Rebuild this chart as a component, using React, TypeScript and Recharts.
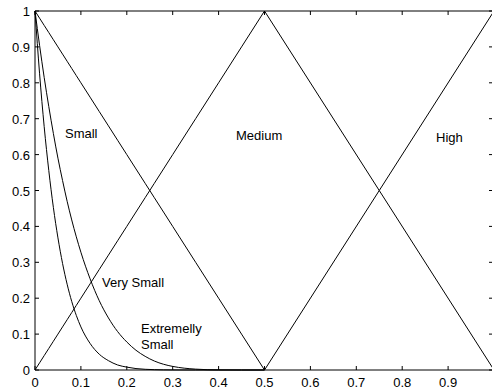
import React from "react";
import { LineChart, Line, XAxis, YAxis, ReferenceArea } from "recharts";

const xValues = [0, 0.01, 0.02, 0.03, 0.04, 0.05, 0.06, 0.07, 0.08, 0.09, 0.1, 0.12, 0.14, 0.16, 0.18, 0.2, 0.22, 0.24, 0.26, 0.28, 0.3, 0.35, 0.4, 0.45, 0.5, 0.75, 1];
const small = [1, 0.98, 0.96, 0.94, 0.92, 0.9, 0.88, 0.86, 0.84, 0.82, 0.8, 0.76, 0.72, 0.68, 0.64, 0.6, 0.56, 0.52, 0.48, 0.44, 0.4, 0.3, 0.2, 0.1, 0, null, null];
const medium = [0, 0.02, 0.04, 0.06, 0.08, 0.1, 0.12, 0.14, 0.16, 0.18, 0.2, 0.24, 0.28, 0.32, 0.36, 0.4, 0.44, 0.48, 0.52, 0.56, 0.6, 0.7, 0.8, 0.9, 1, 0.5, 0];
const high = [null, null, null, null, null, null, null, null, null, null, null, null, null, null, null, null, null, null, null, null, null, null, null, null, 0, 0.5, 1];
const verySmall = [1, 0.904, 0.815, 0.734, 0.659, 0.59, 0.528, 0.47, 0.418, 0.371, 0.328, 0.254, 0.193, 0.145, 0.107, 0.078, 0.055, 0.038, 0.025, 0.016, 0.01, 0.0024, 0.0003, 0, 0, null, null];
const extremelySmall = [1, 0.825, 0.678, 0.556, 0.453, 0.368, 0.297, 0.239, 0.191, 0.152, 0.12, 0.074, 0.044, 0.026, 0.014, 0.008, 0.004, 0.002, 0.001, 0.0004, 0.0002, 0, 0, 0, 0, null, null];

const xTicks = [0, 0.1, 0.2, 0.3, 0.4, 0.5, 0.6, 0.7, 0.8, 0.9];
const yTicks = [0, 0.1, 0.2, 0.3, 0.4, 0.5, 0.6, 0.7, 0.8, 0.9, 1];

const labels = [
  { text: "Small", x: 65, y: 138 },
  { text: "Medium", x: 236, y: 140 },
  { text: "High", x: 436, y: 142 },
  { text: "Very Small", x: 102, y: 287 },
  { text: "Extremelly", x: 141, y: 333 },
  { text: "Small", x: 141, y: 349 },
];

const data = xValues.map((x, i) => ({
  x,
  small: small[i],
  medium: medium[i],
  high: high[i],
  verySmall: verySmall[i],
  extremelySmall: extremelySmall[i],
}));

const CHART_W = 494;
const CHART_H = 392;
const M_LEFT = 35;
const M_TOP = 11;
const X_AXIS_H = 22;
const PLOT_RIGHT = CHART_W;
const FONT = "'Liberation Sans', Arial, sans-serif";

const XTick = (props: any) => {
  const { x, y, payload } = props;
  return (
    <g>
      <line x1={x} y1={y} x2={x} y2={y - 4} stroke="#000" />
      <line x1={x} y1={M_TOP} x2={x} y2={M_TOP + 4} stroke="#000" />
      <text x={x} y={y + 16.5} textAnchor="middle" fontSize={13} fontFamily={FONT} fill="#000">
        {String(payload.value)}
      </text>
    </g>
  );
};

const YTick = (props: any) => {
  const { x, y, payload } = props;
  return (
    <g>
      <line x1={x} y1={y} x2={x + 4} y2={y} stroke="#000" />
      <line x1={PLOT_RIGHT - 1} y1={y} x2={PLOT_RIGHT - 5} y2={y} stroke="#000" />
      <text x={x - 5} y={y + 5} textAnchor="end" fontSize={13} fontFamily={FONT} fill="#000">
        {String(payload.value)}
      </text>
    </g>
  );
};

export default function App() {
  return (
    <div style={{ position: "absolute", left: 0, top: 0, width: 492, height: 392, overflow: "hidden", background: "#fff" }}>
      <LineChart
        width={CHART_W}
        height={CHART_H}
        data={data}
        margin={{ top: M_TOP, right: 0, bottom: 0, left: 0 }}
      >
        <XAxis
          type="number"
          dataKey="x"
          domain={[0, 1]}
          ticks={xTicks}
          interval={0}
          height={X_AXIS_H}
          tickSize={0}
          tickMargin={0}
          tickLine={false}
          axisLine={false}
          tick={<XTick />}
        />
        <YAxis
          type="number"
          domain={[0, 1]}
          ticks={yTicks}
          interval={0}
          width={M_LEFT}
          tickSize={0}
          tickMargin={0}
          tickLine={false}
          axisLine={false}
          tick={<YTick />}
        />
        <ReferenceArea x1={0} x2={1} y1={0} y2={1} fill="none" fillOpacity={0} stroke="#000" strokeWidth={1} ifOverflow="visible" />
        <Line dataKey="small" type="linear" stroke="#000" strokeWidth={1} dot={false} isAnimationActive={false} />
        <Line dataKey="medium" type="linear" stroke="#000" strokeWidth={1} dot={false} isAnimationActive={false} />
        <Line dataKey="high" type="linear" stroke="#000" strokeWidth={1} dot={false} isAnimationActive={false} />
        <Line dataKey="verySmall" type="monotone" stroke="#000" strokeWidth={1} dot={false} isAnimationActive={false} />
        <Line dataKey="extremelySmall" type="monotone" stroke="#000" strokeWidth={1} dot={false} isAnimationActive={false} />
      </LineChart>
      <svg width={492} height={392} style={{ position: "absolute", left: 0, top: 0, pointerEvents: "none" }}>
        {labels.map((l, i) => (
          <text key={i} x={l.x} y={l.y} fontSize={13} fontFamily={FONT} fill="#000">
            {l.text}
          </text>
        ))}
      </svg>
    </div>
  );
}
